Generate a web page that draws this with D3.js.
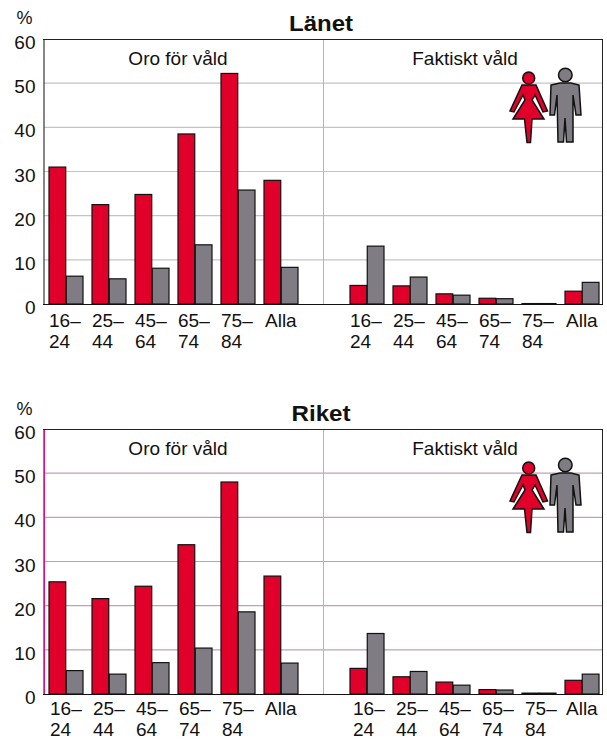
<!DOCTYPE html>
<meta charset="utf-8">
<head>
    <script src="https://cdn.jsdelivr.net/npm/d3@7/dist/d3.min.js"></script>
    <style>
        body { margin: 0; background: #fff; }
        text { font-family: "Liberation Sans", Arial, sans-serif; fill: #111; }
    </style>
</head>
<body>
    <svg width=607 height=740></svg>
</body>
<script>
    let ageLabels = [["16–", "24"], ["25–", "44"], ["45–", "64"], ["65–", "74"], ["75–", "84"], ["Alla"]];
    let yTicks = [0, 10, 20, 30, 40, 50, 60];
    let genders = ["kvinnor", "man"];

    let lanetOroKvinnor = [31, 22.5, 24.8, 38.5, 52.2, 28];
    let lanetOroMan = [6.3, 5.7, 8.1, 13.4, 25.8, 8.3];
    let lanetFaktisktKvinnor = [4.2, 4.1, 2.3, 1.3, 0.1, 2.9];
    let lanetFaktisktMan = [13.1, 6.1, 2, 1.2, 0.1, 4.9];

    let riketOroKvinnor = [25.4, 21.6, 24.4, 33.8, 48, 26.7];
    let riketOroMan = [5.3, 4.5, 7.1, 10.4, 18.6, 7];
    let riketFaktisktKvinnor = [5.8, 3.9, 2.7, 1, 0.2, 3.1];
    let riketFaktisktMan = [13.7, 5.1, 2, 0.9, 0.2, 4.5];

    let red = "#e0002a";
    let gray = "#7f7d83";

    let svg = d3.select("svg");

    // one slot is left empty between the two halves
    let slots = d3.range(13);
    let x = d3.scaleBand().domain(slots).range([49, 608]);
    let xInner = d3.scaleBand().domain(genders).range([0, 34]).paddingInner(0.03);

    function drawPerson(g, dy) {
        let p = g.append("g").attr("transform", `translate(0, ${dy})`)
            .attr("stroke", "#111").attr("stroke-width", 1.5).attr("stroke-linejoin", "miter");
        p.append("circle").attr("cx", 528.7).attr("cy", 78).attr("r", 6).attr("fill", red);
        p.append("path").attr("fill", red)
            .attr("d", "M522 85 L536 85 L547.5 111 L543 112 L535 95 L532 100 L544 119 L532 119 L530.5 142.5 L527 142.5 L524.5 119 L513 119 L525 100 L523 95 L514 112 L510 111 Z");
        p.append("circle").attr("cx", 565.3).attr("cy", 75).attr("r", 6.8).attr("fill", gray);
        p.append("path").attr("fill", gray)
            .attr("d", "M551 85 L560 83 L571 83 L579 85 L581 115 L576 115 L573 95 L573 142 L566.5 142 L565 118 L563.5 142 L558 142 L557 95 L554.5 115 L550 115 Z");
    }

    function drawPanel(opts) {
        let y = d3.scaleLinear().domain([0, 60]).range([opts.bottom, opts.bottom - 265]);
        let g = svg.append("g");

        g.append("text").attr("x", 321).attr("y", opts.bottom - 273)
            .attr("text-anchor", "middle").attr("font-size", 22).attr("font-weight", "bold")
            .attr("textLength", opts.titleWidth).attr("lengthAdjust", "spacingAndGlyphs")
            .text(opts.title);
        g.append("text").attr("x", 16.5).attr("y", opts.percentY).attr("font-size", 18).text("%");

        // grid
        g.selectAll(".grid").data(yTicks.filter(d => d > 0 && d < 60)).enter().append("line")
            .attr("x1", 44).attr("x2", 603)
            .attr("y1", d => y(d)).attr("y2", d => y(d))
            .attr("stroke", opts.gridColor).attr("stroke-width", 1.2);
        g.append("line").attr("x1", 323.5).attr("x2", 323.5)
            .attr("y1", y(60)).attr("y2", y(0)).attr("stroke", "#b5b5b5").attr("stroke-width", 1);

        let yAxis = d3.axisLeft(y).tickValues(yTicks).tickSize(0).tickPadding(8);
        let yG = g.append("g").attr("transform", "translate(43.5, 0)").call(yAxis);
        yG.select(".domain").attr("stroke", "#111").attr("stroke-width", 1);
        yG.selectAll("text").attr("font-size", 19).attr("dy", ".35em").attr("x", -8).attr("y", 3);

        if (opts.pinkEdge) {
            g.append("line").attr("x1", 44.5).attr("x2", 44.5).attr("y1", y(60)).attr("y2", y(0))
                .attr("stroke", "#e0107a").attr("stroke-width", 1);
        }

        // frame
        g.append("line").attr("x1", 43).attr("x2", 603).attr("y1", y(60) + .5).attr("y2", y(60) + .5).attr("stroke", "#222");
        g.append("line").attr("x1", 602.5).attr("x2", 602.5).attr("y1", y(60)).attr("y2", y(0)).attr("stroke", "#222");

        opts.halves.forEach(function (half) {
            let groups = g.selectAll(null).data(ageLabels).enter().append("g")
                .attr("transform", (d, i) => `translate(${x(half.start + i)}, 0)`);

            [half.kvinnor, half.man].forEach(function (values, s) {
                groups.append("rect")
                    .attr("x", xInner(genders[s]))
                    .attr("width", xInner.bandwidth())
                    .attr("y", (d, i) => y(values[i]))
                    .attr("height", (d, i) => y(0) - y(values[i]))
                    .attr("fill", s == 0 ? red : gray)
                    .attr("stroke", "#111").attr("stroke-width", 1.2);
            });

            groups.each(function (d, i) {
                let last = d.length == 1;
                let t = d3.select(this).append("text").attr("font-size", 19);
                d.forEach(function (line, n) {
                    t.append("tspan")
                        .attr("x", (last ? 1 : half.labelDx))
                        .attr("y", opts.bottom + opts.labelY[n])
                        .text(line);
                });
            });

            g.append("text").attr("x", half.headX).attr("y", opts.bottom - 239.5)
                .attr("text-anchor", "middle").attr("font-size", 19).text(half.head);
        });

        // baseline
        g.append("line").attr("x1", 43).attr("x2", 603).attr("y1", y(0) + .5).attr("y2", y(0) + .5)
            .attr("stroke", "#111").attr("stroke-width", 1.2);

        drawPerson(g, opts.bottom - 304);
    }

    drawPanel({
        title: "Länet", titleWidth: 64, bottom: 304, percentY: 24, labelY: [23, 44], gridColor: "#c4c4c4", pinkEdge: false,
        halves: [
            { start: 0, head: "Oro för våld", headX: 178, labelDx: 0, kvinnor: lanetOroKvinnor, man: lanetOroMan },
            { start: 7, head: "Faktiskt våld", headX: 465, labelDx: 0, kvinnor: lanetFaktisktKvinnor, man: lanetFaktisktMan }
        ]
    });
    // labels sit a little higher here so the digits stay inside the window
    drawPanel({
        title: "Riket", titleWidth: 59, bottom: 694, percentY: 415, labelY: [21, 41.8], gridColor: "#bda3b5", pinkEdge: true,
        halves: [
            { start: 0, head: "Oro för våld", headX: 178, labelDx: 1, kvinnor: riketOroKvinnor, man: riketOroMan },
            { start: 7, head: "Faktiskt våld", headX: 465, labelDx: 3, kvinnor: riketFaktisktKvinnor, man: riketFaktisktMan }
        ]
    });
</script>
